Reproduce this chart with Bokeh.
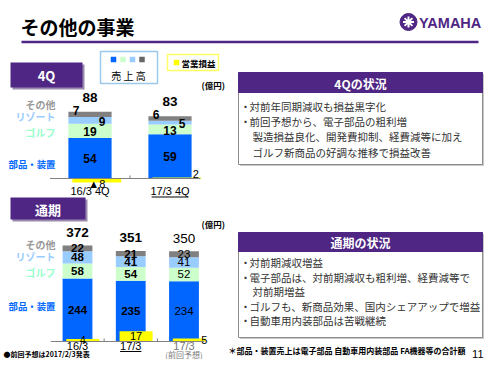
from bokeh.plotting import figure
from bokeh.models import Range1d
from bokeh.core.properties import value
from bokeh.embed import file_html
from bokeh.resources import INLINE

# ---------------- data ----------------
q4_categories = ["16/3 4Q", "17/3 4Q"]
q4_parts = [54, 59]
q4_golf = [19, 13]
q4_resort = [9, 5]
q4_other = [7, 6]
q4_total = [88, 83]
q4_profit = [-8, 2]

fy_categories = ["16/3", "17/3", "17/3"]
fy_subcategories = ["", "", "(前回予想)"]
fy_parts = [244, 235, 234]
fy_golf = [58, 54, 52]
fy_resort = [48, 41, 41]
fy_other = [22, 21, 23]
fy_total = [372, 351, 350]
fy_profit = [4, 17, 5]
fy_forecast = [False, False, True]

segment_names = ["部品・装置", "ゴルフ", "リゾート", "その他"]
q4_notes = ["対前年同期減収も損益黒字化", "前回予想から、電子部品の粗利増",
            "製造損益良化、開発費抑制、経費減等に加え", "ゴルフ新商品の好調な推移で損益改善"]
q4_note_bullet = [True, True, False, False]
fy_notes = ["対前期減収増益", "電子部品は、対前期減収も粗利増、経費減等で", "対前期増益",
            "ゴルフも、新商品効果、国内シェアアップで増益", "自動車用内装部品は苦戦継続"]
fy_note_bullet = [True, True, False, True, True]

# ---------------- style ----------------
PURPLE = "#4F2683"
C_PARTS = "#0066FF"
C_GOLF = "#CCFFCC"
C_RESORT = "#99CCFF"
C_OTHER = "#808080"
C_PROFIT = "#FFFF00"
LABEL_COLORS = ["#0066FF", "#99FFCC", "#99CCFF", "#999999"]
LABEL_SIZES = ["9.4px", "10px", "10px", "10px"]
JP = value("Noto Sans CJK JP")
NUM = value("Liberation Sans")

# frame in slide pixel coordinates
L, R, T, B = 0, 484, 0, 359
p = figure(width=R - L, height=B - T, x_range=Range1d(L, R), y_range=Range1d(B, T),
           output_backend="svg", toolbar_location=None, min_border=0,
           x_axis_type=None, y_axis_type=None, outline_line_color=None)
p.background_fill_color = "white"
p.border_fill_color = "white"


def xr(zero_px, ppu):
    return Range1d(start=(L - zero_px) / ppu, end=(R - zero_px) / ppu)


def yr(zero_px, ppu):
    return Range1d(start=(zero_px - B) / ppu, end=(zero_px - T) / ppu)


Q4_X0, Q4_DX = 89.5, 80.0
FY_X0, FY_DX = 77.0, 53.25
Q4_BASE, Q4_SPPU, Q4_PPPU = 178.0, 0.75, 0.5
FY_BASE, FY_SPPU, FY_PPPU = 341.0, 0.258, 0.6
p.extra_x_ranges = {"q4x": xr(Q4_X0, Q4_DX), "fyx": xr(FY_X0, FY_DX)}
p.extra_y_ranges = {"q4s": yr(Q4_BASE, Q4_SPPU), "q4p": yr(Q4_BASE, Q4_PPPU),
                    "fys": yr(FY_BASE, FY_SPPU), "fyp": yr(FY_BASE, FY_PPPU)}

# ---------------- header ----------------
p.text(x=[20], y=[26], text=["その他の事業"], text_font=JP, text_font_size="19px",
       text_font_style="bold", text_color="black", text_baseline="middle")
p.segment(x0=[21], y0=[41.5], x1=[478], y1=[41.5], line_color=PURPLE, line_width=2.5)
p.scatter(x=[408], y=[21.5], size=17, marker="circle", fill_color=PURPLE, line_color=PURPLE)
p.scatter(x=[408], y=[21.5], size=11, marker="asterisk", line_color="white", line_width=2)
p.text(x=[418.5], y=[22.5], text=["YAMAHA"], text_font=NUM,
       text_font_size="14.5px", text_font_style="bold", text_color=PURPLE, text_baseline="middle")

# section boxes
for (x0, x1, y0, y1, lab) in [(10, 82, 62, 87, "4Q"), (10, 85, 197, 219, "通期")]:
    p.quad(left=[x0 + 2], right=[x1 + 2], top=[y0 + 2], bottom=[y1 + 2], fill_color="#9a8aae", line_color=None)
    p.quad(left=[x0], right=[x1], top=[y0], bottom=[y1], fill_color=PURPLE, line_color=None)
    p.text(x=[(x0 + x1) / 2], y=[(y0 + y1) / 2 + 0.5], text=[lab], text_font=JP, text_font_size="13px",
           text_font_style="bold", text_color="white", text_align="center", text_baseline="middle")

# legend boxes
p.quad(left=[100], right=[157], top=[51], bottom=[83], fill_color="white", line_color="#9cc8ec", line_width=1.5)
p.scatter(x=[113, 122.5, 132, 141.5], y=[59, 59, 59, 59], size=5.5, marker="square",
          fill_color=[C_PARTS, C_GOLF, C_RESORT, "#666666"], line_color=None)
p.text(x=[128], y=[75], text=["売 上 高"], text_font=JP, text_font_size="10px", text_color="black",
       text_align="center", text_baseline="middle")
p.quad(left=[167], right=[218], top=[54], bottom=[70], fill_color="white", line_color="#ffff66", line_width=1.5)
p.scatter(x=[176], y=[62], size=5.5, marker="square", fill_color=C_PROFIT, line_color=None)
p.text(x=[181], y=[62], text=["営業損益"], text_font=JP, text_font_size="8.5px", text_font_style="bold",
       text_color="black", text_baseline="middle")
for yy in [84.5, 223.5]:
    p.text(x=[201], y=[yy], text=["(億円)"], text_font=JP, text_font_size="8.5px", text_font_style="bold",
           text_color="black", text_baseline="middle")


# ---------------- charts ----------------
def chart(xn, sn, pn, series, totals, profit, sppu, pppu, width, pwidth, poff, seg_fs, tot_fs,
          tot_dy, seg_dx, seg_dy, profit_dx, profit_dy, bold):
    n = len(totals)
    xs = list(range(n))
    colors = [C_PARTS, C_GOLF, C_RESORT, C_OTHER]
    bottom = [0] * n
    centers = []
    for vals, col in zip(series, colors):
        top = [b + v for b, v in zip(bottom, vals)]
        p.vbar(x=xs, bottom=bottom, top=top, width=width, fill_color=col, line_color=None,
               x_range_name=xn, y_range_name=sn)
        centers.append([(b + t) / 2 for b, t in zip(bottom, top)])
        bottom = top
    # profit bars
    p.vbar(x=[i + poff for i in xs], bottom=[0] * n, top=profit, width=pwidth, fill_color=C_PROFIT,
           line_color=None, x_range_name=xn, y_range_name=pn)
    # baseline
    p.segment(x0=[-0.5], y0=[0], x1=[n - 0.62], y1=[0], line_color="#808080", line_width=1,
              x_range_name=xn, y_range_name=sn)
    mids = [i + 0.5 for i in range(n - 1)]
    p.segment(x0=mids, y0=[0] * len(mids), x1=mids, y1=[3 / sppu] * len(mids), line_color="#808080",
              x_range_name=xn, y_range_name=sn)
    # segment labels
    for k, (vals, cen) in enumerate(zip(series, centers)):
        p.text(x=xs, y=cen, text=[str(v) for v in vals], x_offset=seg_dx[k], y_offset=seg_dy[k],
               text_font=NUM, text_font_size=seg_fs, text_font_style=bold, text_color="black",
               text_align="center", text_baseline="middle", x_range_name=xn, y_range_name=sn)
    # totals
    p.text(x=xs, y=totals, text=[str(v) for v in totals], y_offset=tot_dy, text_font=NUM,
           text_font_size=tot_fs, text_font_style=bold, text_color="black", text_align="center",
           text_baseline="middle", x_range_name=xn, y_range_name=sn)
    # profit labels
    plabels = [("▲" if v < 0 else "") + str(abs(v)) for v in profit]
    py = [v / 2 for v in profit]
    p.text(x=[i + poff for i in xs], y=py, text=plabels, x_offset=profit_dx, y_offset=profit_dy,
           text_font=NUM, text_font_size="11px", text_color="black", text_align="center",
           text_baseline="middle", x_range_name=xn, y_range_name=pn)


chart("q4x", "q4s", "q4p", [q4_parts, q4_golf, q4_resort, q4_other], q4_total, q4_profit,
      Q4_SPPU, Q4_PPPU, 0.54, 0.61, 0.085, "12px", "13.5px", -15,
      seg_dx=[0, 0, 12, -14], seg_dy=[0, 1, 1, -4], profit_dx=[0, 19], profit_dy=[3, -4],
      bold=["bold", "bold"])
chart("fyx", "fys", "fyp", [fy_parts, fy_golf, fy_resort, fy_other], fy_total, fy_profit,
      FY_SPPU, FY_PPPU, 0.56, 0.62, 0.1, "11.5px", "13.5px", -13,
      seg_dx=[0, 0, 0, 0], seg_dy=[0, 0, 0, 0], profit_dx=[0, 0, 15], profit_dy=[0, 0, 0],
      bold=["normal" if f else "bold" for f in fy_forecast])

# category labels
p.text(x=list(range(len(q4_categories))), y=[190] * len(q4_categories), text=q4_categories,
       text_font=NUM, text_font_size="11px", text_color="black", text_align="center",
       text_baseline="middle", x_range_name="q4x")
p.segment(x0=[1 - 0.23], y0=[196.5], x1=[1 + 0.23], y1=[196.5], line_color="black", x_range_name="q4x")
fy_cat_colors = ["#777777" if f else "black" for f in fy_forecast]
p.text(x=list(range(len(fy_categories))), y=[345.5] * len(fy_categories), text=fy_categories,
       text_font=NUM, text_font_size="11px", text_color=fy_cat_colors, text_align="center",
       text_baseline="middle", x_range_name="fyx")
p.text(x=list(range(len(fy_categories))), y=[353.5] * len(fy_categories), text=fy_subcategories,
       text_font=JP, text_font_size="8px", text_color="#777777", text_align="center",
       text_baseline="middle", x_range_name="fyx")
p.segment(x0=[1 - 0.2], y0=[351], x1=[1 + 0.2], y1=[351], line_color="black", x_range_name="fyx")

# segment name labels on the left
for ys, xright in [([163, 132, 116, 104], 55), ([305, 272, 256, 244], 55)]:
    p.text(x=[xright] * 4, y=ys, text=segment_names, text_font=JP, text_font_size=LABEL_SIZES,
           text_font_style="bold", text_color=LABEL_COLORS, text_align="right", text_baseline="middle")


# ---------------- right panels ----------------
def panel(top, head_bottom, bottom, title, notes, bullets, y0, dy):
    p.quad(left=[239.5], right=[483.5], top=[top + 1.5], bottom=[bottom + 1.5], fill_color="#c8c8c8", line_color=None)
    p.quad(left=[238], right=[482], top=[top], bottom=[bottom], fill_color="white", line_color="#8c8c8c")
    p.quad(left=[238], right=[482], top=[top], bottom=[head_bottom], fill_color=PURPLE, line_color=PURPLE)
    p.text(x=[360], y=[(top + head_bottom) / 2 + 0.5], text=[title], text_font=JP, text_font_size="12px",
           text_font_style="bold", text_color="white", text_align="center", text_baseline="middle")
    ys = [y0 + i * dy for i in range(len(notes))]
    p.text(x=[249 if b else 252 for b in bullets], y=ys, text=notes, text_font=JP, text_font_size="10.5px",
           text_color="#333333", text_baseline="middle")
    by = [y for y, b in zip(ys, bullets) if b]
    p.text(x=[245] * len(by), y=by, text=["・"] * len(by), text_font=JP, text_font_size="10.5px",
           text_color="#333333", text_align="center", text_baseline="middle")


panel(72, 92, 164, "4Qの状況", q4_notes, q4_note_bullet, 106, 15.2)
panel(232, 251, 337, "通期の状況", fy_notes, fy_note_bullet, 262, 14.6)

# footnotes
p.text(x=[228], y=[350], text=["＊部品・装置売上は電子部品 自動車用内装部品 FA機器等の合計額"], text_font=JP,
       text_font_size="8px", text_font_style="bold", text_color="black", text_baseline="middle")
p.text(x=[483], y=[353], text=["11"], text_font=NUM, text_font_size="11px", text_color="black",
       text_align="right", text_baseline="middle")
p.text(x=[3], y=[353.5], text=["●前回予想は2017/2/3発表"], text_font=JP, text_font_size="7px",
       text_font_style="bold", text_color="black", text_baseline="middle")

open("out.html", "w").write(file_html(p, INLINE))
